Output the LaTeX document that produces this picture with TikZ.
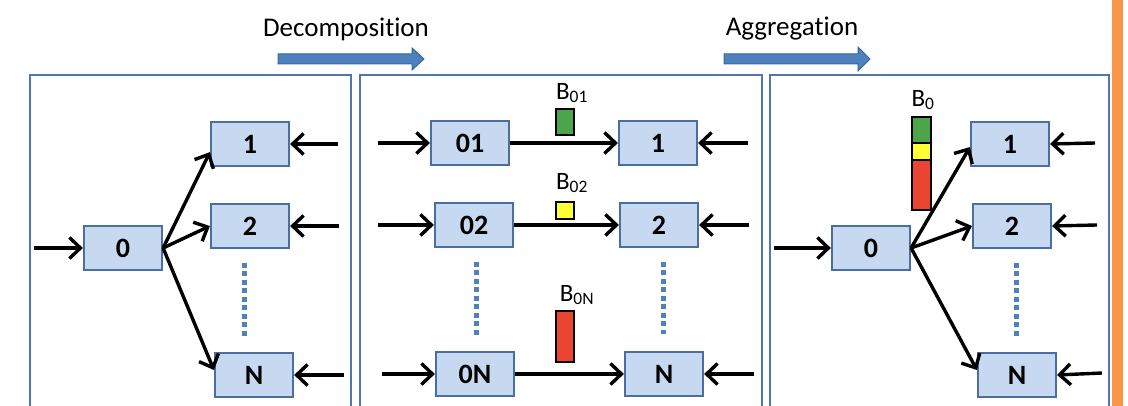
\documentclass[tikz,border=0pt]{standalone}
\usepackage{fontspec}
\setmainfont[Ligatures=NoCommon]{Carlito}
\usetikzlibrary{arrows.meta,positioning,calc}
\definecolor{boxfill}{HTML}{C6D9F1}
\definecolor{boxline}{HTML}{4A6E9E}
\definecolor{panelline}{HTML}{4F77AD}
\definecolor{bigarrow}{HTML}{4F81BD}
\definecolor{bigarrowline}{HTML}{3A64A0}
\definecolor{dotblue}{HTML}{4F81BD}
\definecolor{bgreen}{HTML}{4BA64B}
\definecolor{byellow}{HTML}{FFFF33}
\definecolor{bred}{HTML}{EA4530}
\definecolor{orangebar}{HTML}{F79646}
\tikzset{
  nodebox/.style={draw=boxline, fill=boxfill, line width=2.2pt, minimum width=78pt, minimum height=44pt, inner sep=0pt, font=\fontsize{28}{28}\selectfont\bfseries},
  panel/.style={draw=panelline, line width=2.2pt},
  flow/.style={line width=3.4pt, -{Straight Barb[length=11pt,width=21pt,line width=3.4pt]}},
  dots/.style={draw=dotblue, line width=5pt, dash pattern=on 5pt off 3.5pt},
  bar/.style={draw=black, line width=2.5pt},
  blabel/.style={font=\fontsize{25}{25}\selectfont, inner sep=0pt},
  steplabel/.style={font=\fontsize{27}{27}\selectfont, inner sep=0pt},
  bigarr/.style={fill=bigarrow, draw=bigarrowline, line width=1pt}
}
\begin{document}
\begin{tikzpicture}[x=1pt,y=-1pt]
\useasboundingbox (0,0) rectangle (1128,406);
\clip (0,0) rectangle (1128,406);
\fill[white] (0,0) rectangle (1128,406);
% orange bar
\fill[orangebar] (1112,0) rectangle (1123,406);
% panels
\draw[panel] (30,75) rectangle (351,430);
\draw[panel] (360,75) rectangle (762,430);
\draw[panel] (770,75) rectangle (1109,430);
% step labels
\node[steplabel] (dec) at (346,29) {Decomposition};
\node[steplabel] (agg) at (792,29) {Aggregation};
\draw[bigarr] (278,54) -- (412,54) -- (412,48) -- (424,59) -- (412,70) -- (412,64) -- (278,64) -- cycle;
\draw[bigarr] (724,54) -- (858,54) -- (858,47) -- (870,59) -- (858,71) -- (858,64) -- (724,64) -- cycle;

% ---------- panel 1 ----------
\node[nodebox] (a0) at (123,248) {0};
\node[nodebox] (a1) at (250,144) {1};
\node[nodebox] (a2) at (250,226) {2};
\node[nodebox] (aN) at (254,375) {N};
\coordinate (a0in) at (34,248);
\coordinate (a1in) at (338,144);
\coordinate (a2in) at (339,226);
\coordinate (aNin) at (344,375);
\draw[flow] (a0in) -- (a0.west);
\draw[flow] (a1in) -- (a1.east);
\draw[flow] (a2in) -- (a2.east);
\draw[flow] (aNin) -- (aN.east);
\draw[flow] (a0.east) -- ([yshift=15pt]a1.south west);
\draw[flow] (a0.east) -- (a2.west);
\draw[flow] (a0.east) -- ([yshift=5pt]aN.west);
\coordinate (ad1) at (244,263);
\coordinate (ad2) at (244,336);
\draw[dots] (ad1) -- (ad2);

% ---------- panel 2 ----------
\node[nodebox] (b01) at (470,143) {01};
\node[nodebox] (b1) at (658,143) {1};
\node[nodebox] (b02) at (474,225) {02};
\node[nodebox] (b2) at (659,225) {2};
\node[nodebox] (b0N) at (475,374) {0N};
\node[nodebox] (bN) at (664,374) {N};
\coordinate (b01in) at (378,143);
\coordinate (b02in) at (378,225);
\coordinate (b0Nin) at (382,374);
\coordinate (b1in) at (748,143);
\coordinate (b2in) at (749,225);
\coordinate (bNin) at (754,374);
\draw[flow] (b01in) -- (b01.west);
\draw[flow] (b02in) -- (b02.west);
\draw[flow] (b0Nin) -- (b0N.west);
\draw[flow] (b1in) -- (b1.east);
\draw[flow] (b2in) -- (b2.east);
\draw[flow] (bNin) -- (bN.east);
\draw[flow] (b01.east) -- (b1.west);
\draw[flow] (b02.east) -- (b2.west);
\draw[flow] (b0N.east) -- (bN.west);
\draw[bar, fill=bgreen] (556,109) rectangle (574,135);
\draw[bar, fill=byellow] (556,202) rectangle (574,219);
\draw[bar, fill=bred] (556,311) rectangle (574,362);
\node[blabel] (lb01) at (572,93) {B\textsubscript{01}};
\node[blabel] (lb02) at (572,183) {B\textsubscript{02}};
\node[blabel] (lb0N) at (577,295) {B\textsubscript{0N}};
\coordinate (bd1) at (476,262);
\coordinate (bd2) at (476,336);
\coordinate (bd3) at (663,262);
\coordinate (bd4) at (663,334);
\draw[dots] (bd1) -- (bd2);
\draw[dots] (bd3) -- (bd4);

% ---------- panel 3 ----------
\node[nodebox] (c0) at (871,248) {0};
\node[nodebox] (c1) at (1010,144) {1};
\node[nodebox] (c2) at (1012,226) {2};
\node[nodebox] (cN) at (1017,375) {N};
\coordinate (c0in) at (774,248);
\coordinate (c1in) at (1095,143);
\coordinate (c2in) at (1097,225);
\coordinate (cNin) at (1102,373);
\draw[flow] (c0in) -- (c0.west);
\draw[flow] (c1in) -- (c1.east);
\draw[flow] (c2in) -- (c2.east);
\draw[flow] (cNin) -- (cN.east);
\draw[bar, fill=bgreen] (912,117) rectangle (931,143);
\draw[bar, fill=byellow] (912,143) rectangle (931,160);
\draw[bar, fill=bred] (912,160) rectangle (931,210);
\draw[flow] (c0.east) -- ([yshift=20pt]c1.south west);
\draw[flow] (c0.east) -- (c2.west);
\draw[flow] (c0.east) -- ([yshift=5pt]cN.west);
\node[blabel] (lb0) at (923,100) {B\textsubscript{0}};
\coordinate (cd1) at (1016,263);
\coordinate (cd2) at (1016,336);
\draw[dots] (cd1) -- (cd2);
\end{tikzpicture}
\end{document}
